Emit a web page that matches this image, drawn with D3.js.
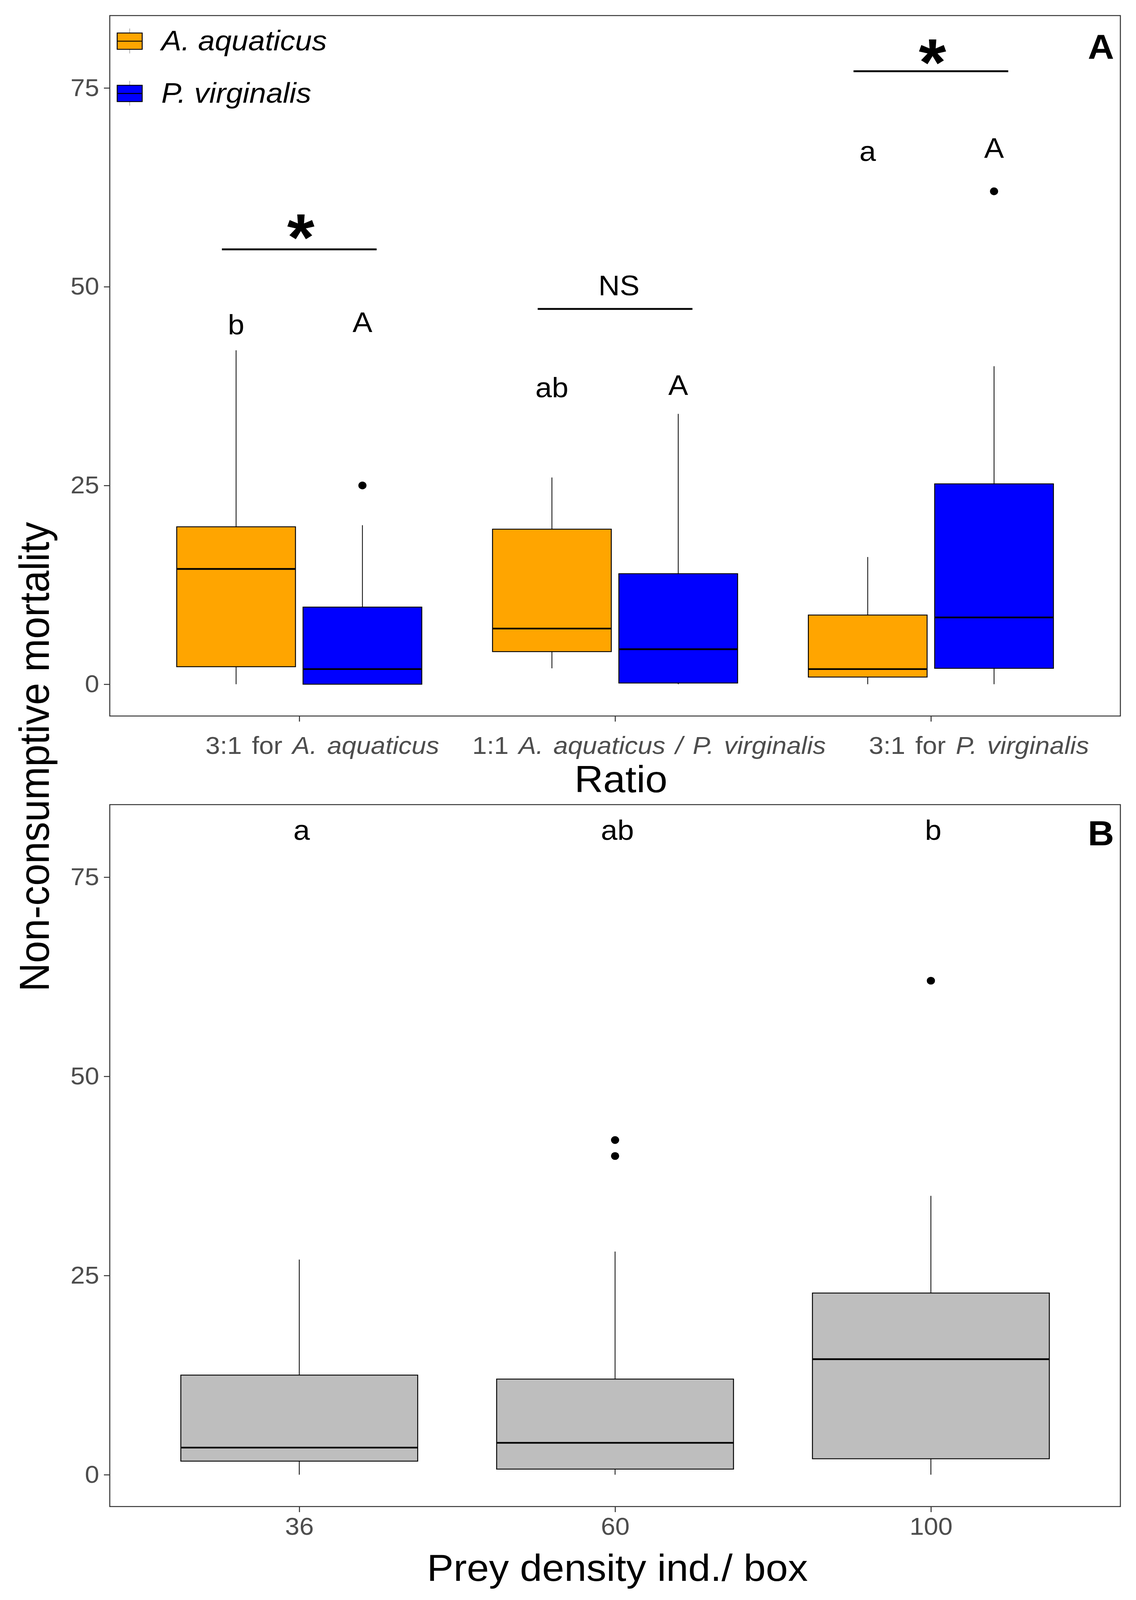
<!DOCTYPE html>
<html>
<head>
<meta charset="utf-8">
<script src="https://cdn.jsdelivr.net/npm/d3@7"></script>
<style>
  html, body { margin: 0; padding: 0; background: #fff; overflow: hidden; width: 100%; height: 100%; }
  svg { display: block; width: 100vw; height: 100vh; }
  text { font-family: "Liberation Sans", Arial, Helvetica, sans-serif; }
</style>
</head>
<body>
<script>
// ---------------- DATA ----------------
const ratioCategories = ["3:1 for A. aquaticus", "1:1 A. aquaticus / P. virginalis", "3:1 for P. virginalis"];
const species = ["A. aquaticus", "P. virginalis"];
const speciesColors = ["#FFA500", "#0000FF"];

// box statistics: [lower whisker, q1, median, q3, upper whisker]
const aquaticusStats = [[0, 2.2, 14.5, 19.8, 42], [2, 4.1, 7.0, 19.5, 26], [0, 0.9, 1.9, 8.7, 16]];
const aquaticusOutliers = [[], [], []];
const virginalisStats = [[0, 0, 1.9, 9.7, 20], [0, 0.15, 4.4, 13.9, 34], [0, 2.0, 8.4, 25.2, 40]];
const virginalisOutliers = [[25], [], [62]];

const aquaticusLetters = ["b", "ab", "a"];
const aquaticusLetterY = [44.0, 36.1, 65.8];
const virginalisLetters = ["A", "A", "A"];
const virginalisLetterY = [44.3, 36.4, 66.2];

const sigLabels = ["*", "NS", "*"];
const sigLineY = [54.7, 47.2, 77.1];
const sigTextY = [53.3, 48.9, 75.3];

const densityCategories = ["36", "60", "100"];
const densityStats = [[0, 1.7, 3.4, 12.5, 27], [0, 0.7, 4.0, 12.0, 28], [0, 2.0, 14.5, 22.8, 35]];
const densityOutliers = [[], [40, 42], [62]];
const densityLetters = ["a", "ab", "b"];
const densityLetterY = [79.7, 79.7, 79.7];

const yTicks = [0, 25, 50, 75];
const yDomain = [-4.0, 84.1];

// ---------------- LAYOUT ----------------
const W = 2908, H = 4315;
const left = 281, right = 2868;
const panelA = { top: 42, bottom: 1931 };
const panelB = { top: 2170, bottom: 4063 };
const tickLabelColor = "#4D4D4D";
const axisColor = "#333333";
const tickFont = 66, titleFont = 102, annFont = 76;

const svg = d3.select("body").append("svg")
  .attr("viewBox", `0 0 ${W} ${H}`)
  .attr("preserveAspectRatio", "none");
svg.append("rect").attr("width", W).attr("height", H).attr("fill", "#fff");

const xA = d3.scalePoint().domain(ratioCategories).range([left, right]).padding(0.6);
const xB = d3.scalePoint().domain(densityCategories).range([left, right]).padding(0.6);
const yA = d3.scaleLinear().domain(yDomain).range([panelA.bottom, panelA.top]);
const yB = d3.scaleLinear().domain(yDomain).range([panelB.bottom, panelB.top]);

function drawBox(g, cx, halfW, st, outs, fill, y) {
  const [lo, q1, med, q3, hi] = st;
  g.append("line").attr("x1", cx).attr("x2", cx).attr("y1", y(q3)).attr("y2", y(hi))
    .attr("stroke", "#000").attr("stroke-width", 2);
  g.append("line").attr("x1", cx).attr("x2", cx).attr("y1", y(q1)).attr("y2", y(lo))
    .attr("stroke", "#000").attr("stroke-width", 2);
  g.append("rect").attr("x", cx - halfW).attr("width", 2 * halfW)
    .attr("y", y(q3)).attr("height", Math.max(0, y(q1) - y(q3)))
    .attr("fill", fill).attr("stroke", "#000").attr("stroke-width", 2.4);
  g.append("line").attr("x1", cx - halfW).attr("x2", cx + halfW).attr("y1", y(med)).attr("y2", y(med))
    .attr("stroke", "#000").attr("stroke-width", 4.6);
  outs.forEach(o => g.append("circle").attr("cx", cx).attr("cy", y(o)).attr("r", 10.5).attr("fill", "#000"));
}

function drawYAxis(y) {
  const ax = svg.append("g").attr("transform", `translate(${left},0)`)
    .call(d3.axisLeft(y).tickValues(yTicks).tickSize(15).tickPadding(12).tickFormat(d3.format("d")));
  ax.select(".domain").remove();
  ax.selectAll(".tick line").attr("stroke", axisColor).attr("stroke-width", 2.6);
  ax.selectAll(".tick text").attr("fill", tickLabelColor).attr("font-size", tickFont)
    .attr("font-family", "Liberation Sans, Arial, sans-serif");
}

function drawFrame(p) {
  svg.append("rect").attr("x", left).attr("y", p.top).attr("width", right - left).attr("height", p.bottom - p.top)
    .attr("fill", "none").attr("stroke", axisColor).attr("stroke-width", 2.6);
}

// ---------------- PANEL A ----------------
const gA = svg.append("g");
const stepA = xA.step();
const offA = 0.2 * stepA, halfA = 0.188 * stepA;
ratioCategories.forEach((c, i) => {
  const cx = xA(c);
  drawBox(gA, cx - offA, halfA, aquaticusStats[i], aquaticusOutliers[i], speciesColors[0], yA);
  drawBox(gA, cx + offA, halfA, virginalisStats[i], virginalisOutliers[i], speciesColors[1], yA);
  gA.append("text").attr("x", cx - offA).attr("y", yA(aquaticusLetterY[i])).attr("text-anchor", "middle")
    .attr("font-size", annFont).attr("fill", "#000").text(aquaticusLetters[i]);
  gA.append("text").attr("x", cx + offA).attr("y", yA(virginalisLetterY[i])).attr("text-anchor", "middle")
    .attr("font-size", annFont).attr("fill", "#000").text(virginalisLetters[i]);
  gA.append("line").attr("x1", cx - 0.245 * stepA).attr("x2", cx + 0.245 * stepA)
    .attr("y1", yA(sigLineY[i])).attr("y2", yA(sigLineY[i])).attr("stroke", "#000").attr("stroke-width", 5);
  const isStar = sigLabels[i] === "*";
  gA.append("text").attr("x", cx + (isStar ? 4 : 10)).attr("y", yA(sigTextY[i])).attr("text-anchor", "middle")
    .attr("font-size", isStar ? 180 : annFont).attr("font-weight", isStar ? "bold" : "normal")
    .attr("fill", "#000").text(sigLabels[i]);
});
drawFrame(panelA);
drawYAxis(yA);

// x axis A
const axA = svg.append("g").attr("transform", `translate(0,${panelA.bottom})`)
  .call(d3.axisBottom(xA).tickSize(15).tickFormat(""));
axA.select(".domain").remove();
axA.selectAll(".tick line").attr("stroke", axisColor).attr("stroke-width", 2.6);
const labelParts = [
  [["3:1 for ", false], ["A. aquaticus", true]],
  [["1:1 ", false], ["A. aquaticus / P. virginalis", true]],
  [["3:1 for ", false], ["P. virginalis", true]]
];
const labelShift = [59, 87, 123];
ratioCategories.forEach((c, i) => {
  const t = svg.append("text").attr("x", xA(c) + labelShift[i]).attr("y", panelA.bottom + 102)
    .attr("text-anchor", "middle").attr("font-size", 67).attr("word-spacing", 7).attr("fill", tickLabelColor);
  labelParts[i].forEach(([s, it]) => t.append("tspan").attr("font-style", it ? "italic" : "normal").text(s));
});
svg.append("text").attr("x", (left + right) / 2 + 15).attr("y", 2136).attr("text-anchor", "middle")
  .attr("font-size", titleFont).attr("fill", "#000").text("Ratio");

// legend
const legKeyX = 300, legKeyW = 64, legKeyH = 44;
const legCenters = [111, 252];
species.forEach((s, i) => {
  const cy = legCenters[i];
  svg.append("line").attr("x1", legKeyX + legKeyW / 2).attr("x2", legKeyX + legKeyW / 2)
    .attr("y1", cy - 34).attr("y2", cy + 33).attr("stroke", "#999").attr("stroke-width", 1.5);
  svg.append("rect").attr("x", legKeyX).attr("y", cy - legKeyH / 2).attr("width", legKeyW).attr("height", legKeyH)
    .attr("fill", speciesColors[i]).attr("stroke", "#000").attr("stroke-width", 2.4);
  svg.append("line").attr("x1", legKeyX).attr("x2", legKeyX + legKeyW).attr("y1", cy).attr("y2", cy)
    .attr("stroke", "#000").attr("stroke-width", 2.6);
  svg.append("text").attr("x", 413).attr("y", cy + 25).attr("font-size", 77).attr("font-style", "italic")
    .attr("fill", "#000").text(s);
});
svg.append("text").attr("x", 2852).attr("y", 159).attr("text-anchor", "end").attr("font-size", 93)
  .attr("font-weight", "bold").attr("fill", "#000").text("A");

// ---------------- PANEL B ----------------
const gB = svg.append("g");
const halfB = 0.375 * xB.step();
densityCategories.forEach((c, i) => {
  const cx = xB(c);
  drawBox(gB, cx, halfB, densityStats[i], densityOutliers[i], "#BEBEBE", yB);
  gB.append("text").attr("x", cx + 6).attr("y", yB(densityLetterY[i])).attr("text-anchor", "middle")
    .attr("font-size", annFont).attr("fill", "#000").text(densityLetters[i]);
});
drawFrame(panelB);
drawYAxis(yB);
const axB = svg.append("g").attr("transform", `translate(0,${panelB.bottom})`)
  .call(d3.axisBottom(xB).tickSize(15).tickPadding(14));
axB.select(".domain").remove();
axB.selectAll(".tick line").attr("stroke", axisColor).attr("stroke-width", 2.6);
axB.selectAll(".tick text").attr("fill", tickLabelColor).attr("font-size", tickFont)
  .attr("font-family", "Liberation Sans, Arial, sans-serif");
svg.append("text").attr("x", (left + right) / 2 + 6).attr("y", 4263).attr("text-anchor", "middle")
  .attr("font-size", titleFont).attr("fill", "#000").text("Prey density ind./ box");
svg.append("text").attr("x", 2852).attr("y", 2280).attr("text-anchor", "end").attr("font-size", 93)
  .attr("font-weight", "bold").attr("fill", "#000").text("B");

// y title
svg.append("text").attr("transform", `translate(125,2041) rotate(-90)`).attr("text-anchor", "middle")
  .attr("font-size", 107).attr("fill", "#000").text("Non-consumptive mortality");
</script>
</body>
</html>
